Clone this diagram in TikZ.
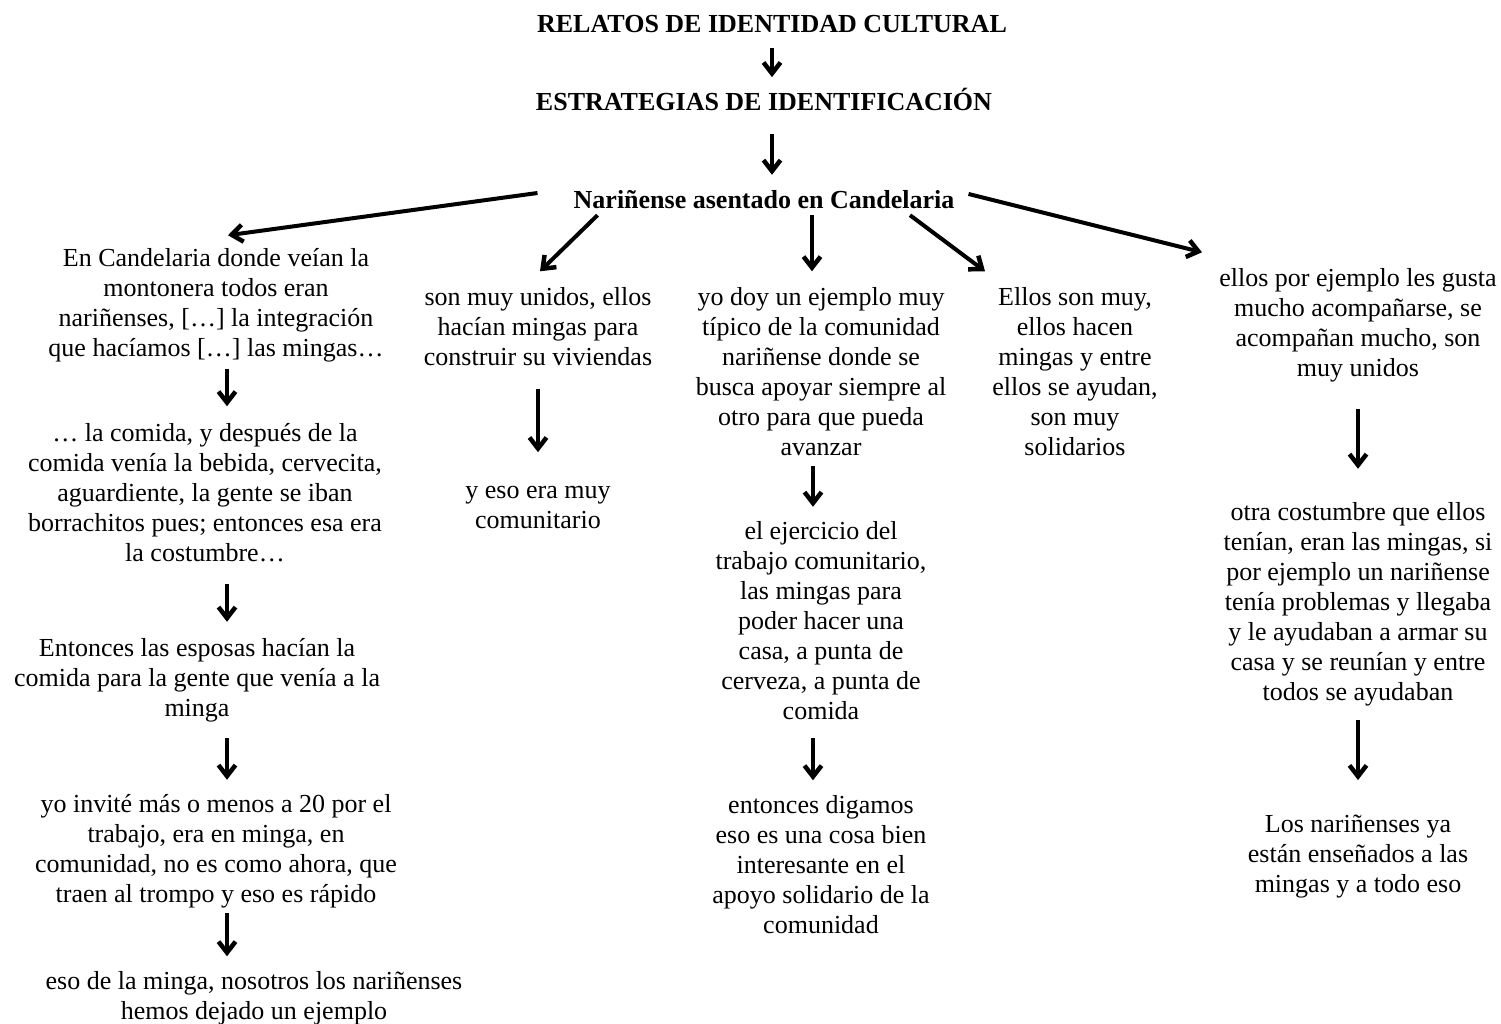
\documentclass[tikz,border=0pt]{standalone}
\usepackage{fontspec}
\setmainfont{Liberation Serif}
\usetikzlibrary{arrows.meta}
\begin{document}
\begin{tikzpicture}[x=1pt,y=-1pt,
  txt/.style={font=\fontsize{26}{30}\selectfont, align=center, inner sep=0pt,
    execute at begin node=\strut, execute at end node=\strut},
  head/.style={txt, font=\fontsize{26}{30}\selectfont\bfseries},
  arr/.style={line width=4pt, -{Straight Barb[length=11pt,width=17pt,line width=4.5pt]}}]
\useasboundingbox (0,0) rectangle (1501,1023);

% headings
\node[head] (t1) at (772,26) {RELATOS DE IDENTIDAD CULTURAL};
\node[head] (t2) at (764,104) {ESTRATEGIAS DE IDENTIFICACIÓN};
\node[head] (hub) at (764,202) {Nariñense asentado en Candelaria};

% column 1
\node[txt] (A) at (216,306.5) {En Candelaria donde veían la\\montonera todos eran\\nariñenses, […] la integración\\que hacíamos […] las mingas…};
\node[txt] (B) at (205,496.5) {… la comida, y después de la\\comida venía la bebida, cervecita,\\aguardiente, la gente se iban\\borrachitos pues; entonces esa era\\la costumbre…};
\node[txt] (C) at (197,682) {Entonces las esposas hacían la\\comida para la gente que venía a la\\minga};
\node[txt] (D) at (216,853) {yo invité más o menos a 20 por el\\trabajo, era en minga, en\\comunidad, no es como ahora, que\\traen al trompo y eso es rápido};
\node[txt] (E) at (254,999.5) {eso de la minga, nosotros los nariñenses\\hemos dejado un ejemplo};

% column 2
\node[txt] (F) at (538,330.5) {son muy unidos, ellos\\hacían mingas para\\construir su viviendas};
\node[txt] (G) at (538,511.5) {y eso era muy\\comunitario};

% column 3
\node[txt] (H) at (821,375.5) {yo doy un ejemplo muy\\típico de la comunidad\\nariñense donde se\\busca apoyar siempre al\\otro para que pueda\\avanzar};
\node[txt] (I) at (821,625) {el ejercicio del\\trabajo comunitario,\\las mingas para\\poder hacer una\\casa, a punta de\\cerveza, a punta de\\comida};
\node[txt] (J) at (821,868.5) {entonces digamos\\eso es una cosa bien\\interesante en el\\apoyo solidario de la\\comunidad};

% column 4
\node[txt] (K) at (1075,375.5) {Ellos son muy,\\ellos hacen\\mingas y entre\\ellos se ayudan,\\son muy\\solidarios};

% column 5
\node[txt] (L) at (1358,326.5) {ellos por ejemplo les gusta\\mucho acompañarse, se\\acompañan mucho, son\\muy unidos};
\node[txt] (M) at (1358,606) {otra costumbre que ellos\\tenían, eran las mingas, si\\por ejemplo un nariñense\\tenía problemas y llegaba\\y le ayudaban a armar su\\casa y se reunían y entre\\todos se ayudaban};
\node[txt] (N) at (1358,858) {Los nariñenses ya\\están enseñados a las\\mingas y a todo eso};

% arrow columns
\coordinate (x1) at (227,0);
\coordinate (x2) at (538,0);
\coordinate (x3) at (813,0);
\coordinate (x5) at (1358,0);
\coordinate (x0) at (772,0);

% main chain
\draw[arr, shorten <=7pt, shorten >=11pt] (t1.south -| x0) -- (t2.north -| x0);
\draw[arr, shorten <=14pt, shorten >=12pt] (t2.south -| x0) -- (hub.north -| x0);

% branches from the hub
\draw[arr] ([xshift=-36pt,yshift=9pt]hub.west) -- ([xshift=12pt,yshift=12.5pt]A.north);
\draw[arr] ([xshift=24pt,yshift=2pt]hub.south west) -- ([xshift=2pt,yshift=15.5pt]F.north);
\draw[arr] ([xshift=48pt,yshift=2pt]hub.south) -- ([xshift=-9pt,yshift=15.5pt]H.north);
\draw[arr] ([xshift=146pt,yshift=2pt]hub.south) -- ([xshift=-90pt,yshift=15.5pt]K.north);
\draw[arr] ([xshift=14pt,yshift=8pt]hub.east) -- ([xshift=-156pt,yshift=15.5pt]L.north);

% column 1 chain
\draw[arr, shorten <=3.5pt, shorten >=16.5pt] (A.south -| x1) -- (B.north -| x1);
\draw[arr, shorten <=13.5pt, shorten >=16.5pt] (B.south -| x1) -- (C.north -| x1);
\draw[arr, shorten <=12.5pt, shorten >=14.5pt] (C.south -| x1) -- (D.north -| x1);
\draw[arr, shorten <=1.5pt, shorten >=14.5pt] (D.south -| x1) -- (E.north -| x1);

% column 2 chain
\draw[arr, shorten <=14.5pt, shorten >=33.5pt] (F.south -| x2) -- (G.north -| x2);

% column 3 chain
\draw[arr, shorten <=1.5pt, shorten >=14.5pt] (H.south -| x3) -- (I.north -| x3);
\draw[arr, shorten <=9.5pt, shorten >=14.5pt] (I.south -| x3) -- (J.north -| x3);

% column 5 chain
\draw[arr, shorten <=23.5pt, shorten >=33.5pt] (L.south -| x5) -- (M.north -| x5);
\draw[arr, shorten <=10.5pt, shorten >=34.5pt] (M.south -| x5) -- (N.north -| x5);
\end{tikzpicture}
\end{document}
